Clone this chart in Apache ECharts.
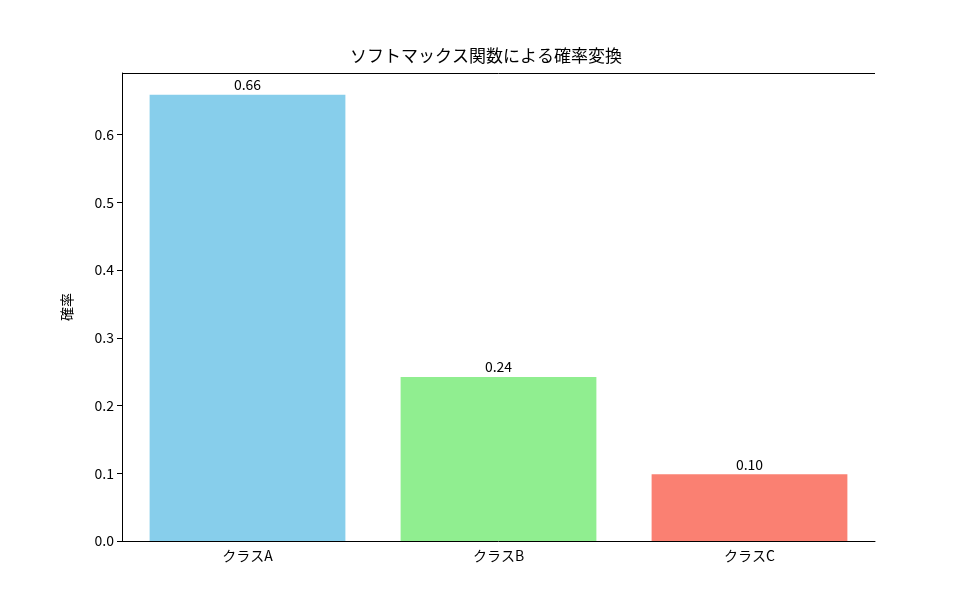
<!DOCTYPE html>
<html><head><meta charset="utf-8">
<script src="https://cdn.jsdelivr.net/npm/echarts@6/dist/echarts.min.js"></script>
<style>body{margin:0}#c{width:972px;height:608px}</style></head>
<body><div id="c"></div>
<script>
const categories = ['クラスA','クラスB','クラスC'];
const values = [0.659, 0.242, 0.0986];
const labels = ['0.66','0.24','0.10'];
const colors = ['#87CEEB','#90EE90','#FA8072'];
const F = '"Noto Sans CJK JP", "DejaVu Sans", sans-serif';
const chart = echarts.init(document.getElementById('c'));
chart.setOption({
  animation:false,
  title:{text:'ソフトマックス関数による確率変換',left:'center',top:42,textStyle:{fontFamily:F,fontSize:17,fontWeight:'normal',color:'#000'}},
  grid:{left:122,right:97,top:73,bottom:67},
  xAxis:{type:'category',data:categories,axisLine:{lineStyle:{color:'#000'}},axisTick:{alignWithLabel:true,lineStyle:{color:'#000'}},
    axisLabel:{fontFamily:F,fontSize:14,color:'#000'}},
  yAxis:{type:'value',min:0,max:0.691,interval:0.1,name:'確率',nameLocation:'middle',nameGap:48,
    nameTextStyle:{fontFamily:F,fontSize:14,color:'#000'},
    axisLine:{show:true,lineStyle:{color:'#000'}},axisTick:{show:true,lineStyle:{color:'#000'}},splitLine:{show:false},
    axisLabel:{fontFamily:F,fontSize:14,color:'#000',formatter:v=>v.toFixed(1),showMaxLabel:false}},
  series:[{type:'bar',barWidth:'78%',
    data:values.map((v,i)=>({value:v,itemStyle:{color:colors[i]},label:{show:true,position:'top',formatter:labels[i],fontFamily:F,fontSize:14,color:'#000',distance:3}}))},
   {type:'line',data:[],markLine:{silent:true,symbol:'none',label:{show:false},lineStyle:{color:'#000',type:'solid',width:1},data:[{yAxis:0.691}]}}]
});
</script></body></html>
